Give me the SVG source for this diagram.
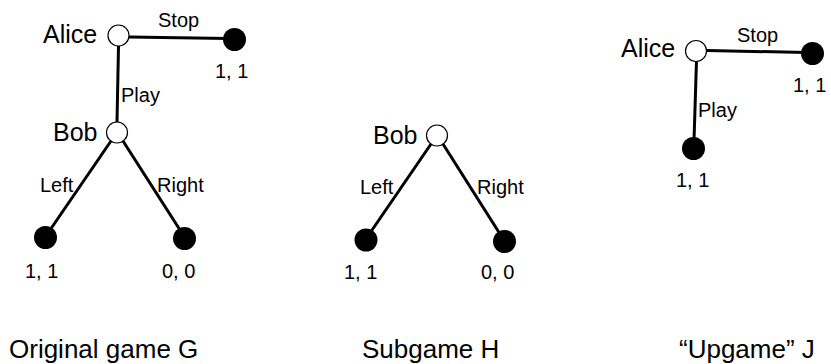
<svg xmlns="http://www.w3.org/2000/svg" width="831" height="364" viewBox="0 0 831 364">
<style>
text{font-family:"Liberation Sans",Arial,sans-serif;fill:#000}
.big{font-size:25px}
.sm{font-size:20px}
.cap{font-size:26px}
.edge{stroke:#000;stroke-width:3;fill:none}
.dec{fill:#fff;stroke:#000;stroke-width:1.2}
.leaf{fill:#000}
</style>
<rect width="831" height="364" fill="#fff"/>
<g id="connectors">
<line class="edge" x1="129" y1="37" x2="228" y2="38.5"/>
<line class="edge" x1="118.5" y1="46" x2="117" y2="122"/>
<line class="edge" x1="111" y1="141" x2="50" y2="230"/>
<line class="edge" x1="123" y1="141" x2="180" y2="230"/>
<text class="sm" x="158" y="27">Stop</text>
<text class="sm" x="121" y="102">Play</text>
<text class="sm" x="40" y="192">Left</text>
<text class="sm" x="157" y="192">Right</text>
<line class="edge" x1="431" y1="144" x2="370" y2="233"/>
<line class="edge" x1="443" y1="144" x2="500" y2="234"/>
<text class="sm" x="360" y="194">Left</text>
<text class="sm" x="477" y="194">Right</text>
<line class="edge" x1="707" y1="50.5" x2="806" y2="52.5"/>
<line class="edge" x1="696.5" y1="61" x2="694" y2="140"/>
<text class="sm" x="737" y="42">Stop</text>
<text class="sm" x="698" y="117">Play</text>
</g>
<g id="g-alice">
<circle class="dec" cx="118.5" cy="35.5" r="10.5"/>
<text class="big" x="43" y="43">Alice</text>
</g>
<g id="g-stop">
<circle class="leaf" cx="234.5" cy="39.5" r="11.5"/>
<text class="sm" x="215" y="78">1, 1</text>
</g>
<g id="g-bob">
<circle class="dec" cx="117" cy="132.5" r="10.5"/>
<text class="big" x="53" y="141">Bob</text>
</g>
<g id="g-left">
<circle class="leaf" cx="45.5" cy="237.5" r="11.5"/>
<text class="sm" x="25" y="278">1, 1</text>
</g>
<g id="g-right">
<circle class="leaf" cx="184.5" cy="238.5" r="11.5"/>
<text class="sm" x="162" y="278">0, 0</text>
</g>
<g id="h-bob">
<circle class="dec" cx="437" cy="135.5" r="10.5"/>
<text class="big" x="373" y="144">Bob</text>
</g>
<g id="h-left">
<circle class="leaf" cx="366" cy="240" r="11.5"/>
<text class="sm" x="344" y="279">1, 1</text>
</g>
<g id="h-right">
<circle class="leaf" cx="504.5" cy="241.5" r="11.5"/>
<text class="sm" x="481" y="279">0, 0</text>
</g>
<g id="j-alice">
<circle class="dec" cx="696" cy="51" r="10.5"/>
<text class="big" x="621" y="57">Alice</text>
</g>
<g id="j-stop">
<circle class="leaf" cx="812.5" cy="53.5" r="11.5"/>
<text class="sm" x="793" y="92">1, 1</text>
</g>
<g id="j-play">
<circle class="leaf" cx="693.5" cy="148.5" r="11.5"/>
<text class="sm" x="676" y="187">1, 1</text>
</g>
<g id="captions">
<text class="cap" x="9" y="358">Original game G</text>
<text class="cap" x="362" y="358">Subgame H</text>
<text class="cap" x="679" y="358">“Upgame” J</text>
</g>
</svg>
